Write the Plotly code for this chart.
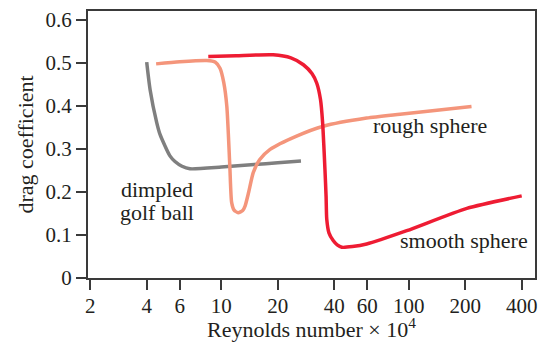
import plotly.graph_objects as go
import math

# Data (Reynolds number x 10^4, drag coefficient)
golf_re = [4.0, 4.17, 4.52, 4.71, 5.32, 5.66, 6.17, 6.8, 10.0, 15.0, 20.0, 26.6]
golf_cd = [0.502, 0.438, 0.362, 0.334, 0.284, 0.271, 0.260, 0.254, 0.258, 0.264, 0.268, 0.272]

rough_re = [4.49, 6.0, 8.36, 9.3, 9.84, 10.3, 10.7, 11.1, 11.35, 11.7, 12.3, 13.0, 13.4, 14.0, 14.8, 16.0,
            18.2, 25.2, 35.0, 59.6, 89.8, 216.0]
rough_cd = [0.498, 0.503, 0.506, 0.502, 0.488, 0.455, 0.399, 0.260, 0.176, 0.158, 0.152, 0.157, 0.168, 0.200,
            0.245, 0.275, 0.299, 0.330, 0.353, 0.372, 0.381, 0.399]

smooth_re = [8.52, 12.0, 18.9, 23.5, 27.4, 30.5, 32.3, 33.8, 34.7, 35.2, 35.7, 36.2, 36.5, 37.5, 39.5, 41.5,
             43.9, 50.0, 59.6, 97.5, 204.0, 400.0]
smooth_cd = [0.515, 0.517, 0.519, 0.512, 0.496, 0.475, 0.453, 0.415, 0.361, 0.310, 0.253, 0.190, 0.137, 0.105, 0.087, 0.077,
             0.0715, 0.073, 0.079, 0.110, 0.162, 0.191]

x_tickvals = [2, 4, 6, 10, 20, 40, 60, 100, 200, 400]
x_ticktext = ["2", "4", "6", "10", "20", "40", "60", "100", "200", "400"]
y_tickvals = [0, 0.1, 0.2, 0.3, 0.4, 0.5, 0.6]
y_ticktext = ["0", "0.1", "0.2", "0.3", "0.4", "0.5", "0.6"]

x_title = "Reynolds number × 10<sup>4</sup>"
y_title = "drag coefficient"

FONT = "Liberation Serif"
AX = "#3a3a3a"
TXT = "#231f20"

fig = go.Figure()
fig.add_trace(go.Scatter(x=golf_re, y=golf_cd, mode="lines",
                         line=dict(color="#7f7f7f", width=3.5, shape="spline", smoothing=0.6)))
fig.add_trace(go.Scatter(x=rough_re, y=rough_cd, mode="lines",
                         line=dict(color="#f4957b", width=3.5, shape="spline", smoothing=0.6)))
fig.add_trace(go.Scatter(x=smooth_re, y=smooth_cd, mode="lines",
                         line=dict(color="#ee1c33", width=3.5, shape="spline", smoothing=0.6)))

annots = [
    dict(x=130, y=0.355, text="rough sphere"),
    dict(x=198, y=0.087, text="smooth sphere"),
    dict(x=4.55, y=0.206, text="dimpled"),
    dict(x=4.55, y=0.152, text="golf ball"),
]
for a in annots:
    fig.add_annotation(x=math.log10(a["x"]), y=a["y"], text=a["text"], showarrow=False,
                       font=dict(family=FONT, size=22, color=TXT), xref="x", yref="y")

# x-axis title as a paper-positioned annotation below the tick labels
fig.add_annotation(x=0.5, y=-0.186, xref="paper", yref="paper", text=x_title,
                   showarrow=False, xanchor="center", yanchor="middle",
                   font=dict(family=FONT, size=22, color=TXT))

fig.update_layout(
    width=541, height=342,
    margin=dict(l=88, r=6, t=11, b=64),
    paper_bgcolor="white", plot_bgcolor="white",
    showlegend=False,
    font=dict(family=FONT, size=21, color=TXT),
)
fig.update_xaxes(type="log", range=[math.log10(1.945), math.log10(471)],
                 tickvals=x_tickvals, ticktext=x_ticktext,
                 tickfont=dict(family=FONT, size=21, color=TXT),
                 ticklabeloverflow="allow", automargin=False, ticklabelstandoff=-2,
                 ticks="outside", ticklen=10, tickwidth=1.5, tickcolor=AX,
                 showline=True, linecolor=AX, linewidth=2, mirror=True,
                 showgrid=False, zeroline=False)
fig.update_yaxes(range=[0, 0.621],
                 tickvals=y_tickvals, ticktext=y_ticktext,
                 tickfont=dict(family=FONT, size=21, color=TXT),
                 automargin=False,
                 ticks="outside", ticklen=10, tickwidth=1.5, tickcolor=AX,
                 showline=True, linecolor=AX, linewidth=2, mirror=True,
                 showgrid=False, zeroline=False,
                 title=dict(text=y_title, standoff=6,
                            font=dict(family=FONT, size=22, color=TXT)))

# remove the default 8px page margin so the figure fills the window exactly
fig.write_html("out.html", config={"displayModeBar": False},
               post_script="document.body.style.margin='0';")
